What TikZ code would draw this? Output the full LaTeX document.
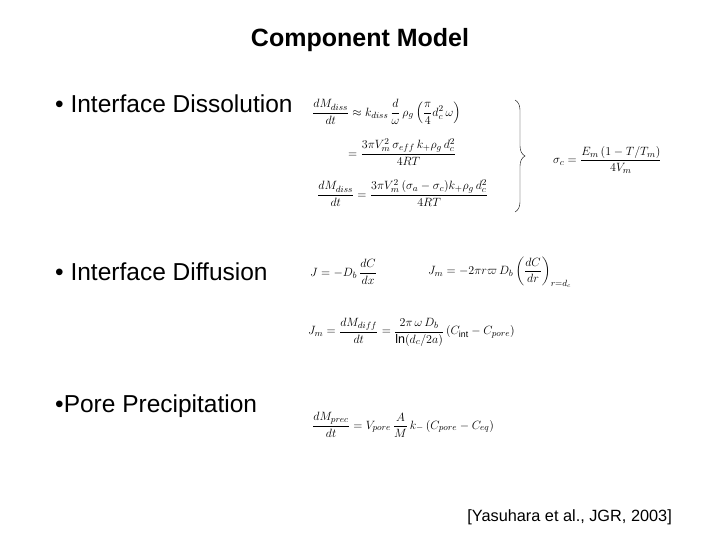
\documentclass[tikz,border=0pt]{standalone}
\usepackage{amsmath}
\usepackage{fontspec}
\setmainfont{Liberation Sans}
\usetikzlibrary{decorations.pathreplacing}
\begin{document}
\begin{tikzpicture}[x=1pt,y=-1pt,
  lbl/.style={anchor=west,font=\fontsize{24.5}{28}\selectfont,inner sep=0},
  eq/.style={anchor=west,inner sep=0,font=\fontsize{12.5}{15}\selectfont}]
\useasboundingbox[fill=white] (0,0) rectangle (720,540);
\node[font=\fontsize{25}{30}\selectfont\bfseries] (title) at (360,40) {Component Model};
\node[lbl] (b1) at (55,104) {• Interface Dissolution};
\node[lbl] (b2) at (55,272) {• Interface Diffusion};
\node[lbl] (b3) at (55,406) {•Pore Precipitation};
\node[anchor=east,inner sep=0,font=\fontsize{16.3}{18}\selectfont] (cite) at (672,517) {[Yasuhara et al., JGR, 2003]};
\node[eq] (e1) at (312,112) {$\dfrac{dM_{diss}}{dt}\approx k_{diss}\,\dfrac{d}{\omega}\,\rho_g\left(\dfrac{\pi}{4}d_c^2\,\omega\right)$};
\node[eq] (e2) at (348,152) {$=\dfrac{3\pi V_m^2\,\sigma_{eff}\,k_+\rho_g\,d_c^2}{4RT}$};
\node[eq] (e3) at (317,193) {$\dfrac{dM_{diss}}{dt}=\dfrac{3\pi V_m^2\,(\sigma_a-\sigma_c)k_+\rho_g\,d_c^2}{4RT}$};
\draw[decorate,decoration={brace,amplitude=10pt}] (515,100) -- (515,212);
\node[eq] (e4) at (553,160) {$\sigma_c=\dfrac{E_m\left(1-T/T_m\right)}{4V_m}$};
\node[eq] (e5) at (310,272) {$J=-D_b\,\dfrac{dC}{dx}$};
\node[eq] (e6) at (428,272) {$J_m=-2\pi r\varpi\,D_b\left(\dfrac{dC}{dr}\right)_{r=d_c}$};
\node[eq] (e7) at (308,332) {$J_m=\dfrac{dM_{diff}}{dt}=\dfrac{2\pi\,\omega\,D_b}{\ln\!\left(d_c/2a\right)}\left(C_{\text{int}}-C_{pore}\right)$};
\node[eq] (e8) at (312,425) {$\dfrac{dM_{prec}}{dt}=V_{pore}\,\dfrac{A}{M}\,k_-\left(C_{pore}-C_{eq}\right)$};
\end{tikzpicture}
\end{document}
